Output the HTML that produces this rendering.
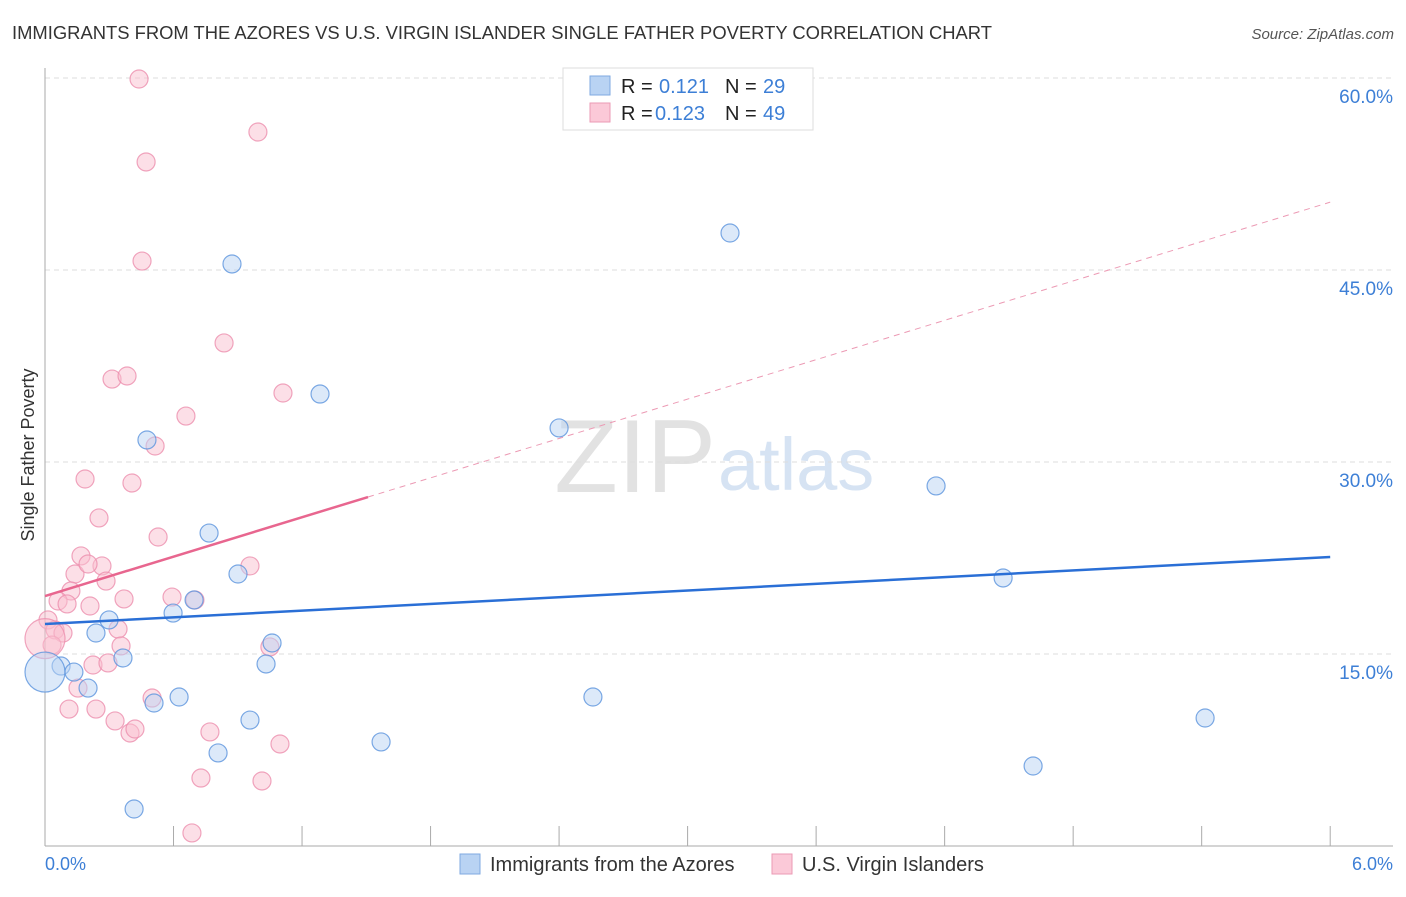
<!DOCTYPE html>
<html><head><meta charset="utf-8"><style>
body{margin:0;background:#fff;font-family:"Liberation Sans",sans-serif;}
svg text{font-family:"Liberation Sans",sans-serif;}
</style></head><body>
<svg id="chart" width="1406" height="892">
<text x="12" y="39" font-size="18.4" fill="#333">IMMIGRANTS FROM THE AZORES VS U.S. VIRGIN ISLANDER SINGLE FATHER POVERTY CORRELATION CHART</text>
<text x="1394" y="39" font-size="15" fill="#555" font-style="italic" text-anchor="end">Source: ZipAtlas.com</text>
<text x="716" y="492" font-size="104" fill="#e2e2e2" text-anchor="end" font-family="Liberation Serif">ZIP</text>
<text x="718" y="490" font-size="74" fill="#d6e3f3">atlas</text>
<g id="grid"></g><g id="axes"></g><g id="pts"></g><g id="lines"></g>
<text transform="translate(34,455) rotate(-90)" font-size="18" fill="#333" text-anchor="middle">Single Father Poverty</text>
<text x="45" y="870" font-size="18" fill="#3d7fd6">0.0%</text>
<text x="1393" y="870" font-size="18" fill="#3d7fd6" text-anchor="end">6.0%</text>
<g>
<rect x="563" y="68" width="250" height="62" fill="#fff" stroke="#ddd"/>
<rect x="590" y="76" width="20" height="19" fill="#b9d3f3" stroke="#7fa9e0"/>
<rect x="590" y="103" width="20" height="19" fill="#fbc9d8" stroke="#eb9ab4"/>
<text x="621" y="93" font-size="20" fill="#222">R = </text><text x="659" y="93" font-size="20" fill="#3d7fd6">0.121</text>
<text x="725" y="93" font-size="20" fill="#222">N = </text><text x="763" y="93" font-size="20" fill="#3d7fd6">29</text>
<text x="621" y="120" font-size="20" fill="#222">R = </text><text x="655" y="120" font-size="20" fill="#3d7fd6">0.123</text>
<text x="725" y="120" font-size="20" fill="#222">N = </text><text x="763" y="120" font-size="20" fill="#3d7fd6">49</text>
</g>
<g>
<rect x="460" y="854" width="20" height="20" fill="#b9d3f3" stroke="#7fa9e0"/>
<text x="490" y="871" font-size="20" fill="#333">Immigrants from the Azores</text>
<rect x="772" y="854" width="20" height="20" fill="#fbc9d8" stroke="#eb9ab4"/>
<text x="802" y="871" font-size="20" fill="#333">U.S. Virgin Islanders</text>
</g>
</svg>
<script>
const yTicks=[15,30,45,60];
const yTickLabels=["15.0%","30.0%","45.0%","60.0%"];
const xTicks=[0,0.6,1.2,1.8,2.4,3.0,3.6,4.2,4.8,5.4,6.0];
const blueX=[3.198,0.873,1.284,2.400,0.476,4.160,0.766,4.473,0.901,0.696,0.598,0.299,0.238,1.060,0.364,1.032,0.075,0.135,0.201,0.626,0.509,2.558,0.957,5.416,0.808,1.569,4.613,0.416,0.0];
const blueY=[47.89,45.47,35.31,32.66,31.72,28.13,24.45,20.94,21.25,19.22,18.20,17.66,16.64,15.86,14.69,14.22,14.06,13.59,12.34,11.64,11.17,11.64,9.84,10.00,7.27,8.13,6.25,2.89,13.59];
const pinkX=[0.439,0.994,0.472,0.453,0.836,0.313,0.383,1.111,0.658,0.514,0.187,0.406,0.252,0.528,0.168,0.140,0.266,0.201,0.285,0.121,0.061,0.103,0.210,0.369,0.593,0.700,0.957,0.014,0.047,0.084,0.341,0.033,1.050,0.355,0.224,0.294,0.154,0.112,0.238,0.327,0.397,0.420,0.770,1.097,0.500,0.728,1.013,0.686,0.0];
const pinkY=[59.92,55.78,53.44,45.70,39.30,36.48,36.72,35.39,33.59,31.25,28.67,28.36,25.63,24.14,22.66,21.25,21.88,22.03,20.70,19.92,19.14,18.91,18.75,19.30,19.45,19.22,21.88,17.66,16.88,16.64,16.95,15.70,15.55,15.63,14.14,14.30,12.34,10.70,10.70,9.77,8.83,9.14,8.91,7.97,11.56,5.31,5.08,1.02,16.2];
const blueTrend=[17.34,22.58];
const pinkTrend=[19.53,50.3];
const pinkSolidEnd=1.508;
const X=v=>45+v*214.2, Y=v=>846-v*12.8;
const NS="http://www.w3.org/2000/svg";
function mk(tag,attrs,parent){const e=document.createElementNS(NS,tag);for(const k in attrs)e.setAttribute(k,attrs[k]);document.getElementById(parent).appendChild(e);return e;}
yTicks.forEach((t,i)=>{
 const l=mk('line',{x1:45,x2:1393,y1:Y(t),y2:Y(t),stroke:'#ddd','stroke-dasharray':'5,4'},'grid');
 
 
 const tx=mk('text',{x:1393,y:Y(t)+25,'font-size':19,fill:'#3d7fd6','text-anchor':'end'},'grid');
 tx.textContent=yTickLabels[i];
 
 
});
const ax=mk('line',{x1:45,x2:1393,y1:846,y2:846,stroke:'#aaa'},'axes');


const ay=mk('line',{x1:45,x2:45,y1:68,y2:846,stroke:'#aaa'},'axes');


xTicks.forEach(t=>{
 const l=mk('line',{x1:X(t),x2:X(t),y1:826,y2:846,stroke:'#aaa'},'axes');
 
 
});
function pts(xs,ys,fill,stroke,name,bigIdx){
 xs.forEach((x,i)=>{
  const c=mk('circle',{cx:X(x),cy:Y(ys[i]),r:i===bigIdx?20:9,fill:fill,'fill-opacity':0.5,stroke:stroke,'stroke-opacity':0.8,'stroke-width':1.2},'pts');
  
  
 });
}
pts(pinkX,pinkY,'#f9bfd0','#ec8fae','point-virgin-islanders',48);
pts(blueX,blueY,'#b9d3f3','#5b93dd','point-azores',28);
const bl=mk('line',{x1:X(0),y1:Y(blueTrend[0]),x2:X(6),y2:Y(blueTrend[1]),stroke:'#2a6fd6','stroke-width':2.5},'lines');


const pEnd=pinkTrend[0]+(pinkTrend[1]-pinkTrend[0])*pinkSolidEnd/6;
const pl=mk('line',{x1:X(0),y1:Y(pinkTrend[0]),x2:X(pinkSolidEnd),y2:Y(pEnd),stroke:'#e8668f','stroke-width':2.5},'lines');


const pd=mk('line',{x1:X(pinkSolidEnd),y1:Y(pEnd),x2:X(6),y2:Y(pinkTrend[1]),stroke:'#ec9ab4','stroke-width':1,'stroke-dasharray':'6,5'},'lines');


</script>
</body></html>
